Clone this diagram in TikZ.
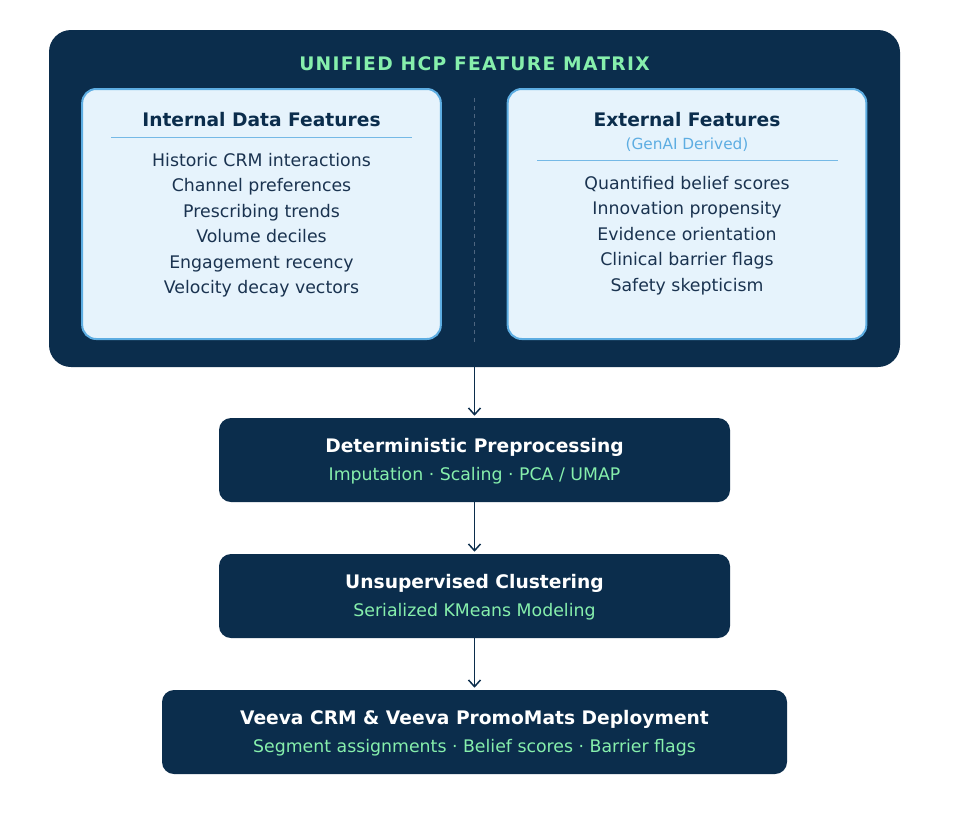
\documentclass[tikz,border=0pt]{standalone}
\usepackage{fontspec}
\setmainfont{DejaVu Sans}
\newfontfamily\spacedfont[LetterSpace=7]{DejaVu Sans}
\usetikzlibrary{arrows.meta}

\definecolor{navy}{HTML}{0B2D4C}
\definecolor{mint}{HTML}{86EFAC}
\definecolor{paleblue}{HTML}{E6F3FC}
\definecolor{skyline}{HTML}{5DADE2}
\definecolor{inkblue}{HTML}{1A3350}
\definecolor{dashgray}{HTML}{4F6680}

\begin{document}
\begin{tikzpicture}[x=0.75pt,y=-0.75pt,
  >={Straight Barb[length=5pt,width=9pt]},
  flow/.style={->,draw=navy,line width=1.1pt,shorten >=1.5pt},
  stage/.style={fill=navy,rounded corners=9pt,minimum height=63pt,inner sep=0pt},
  panel/.style={fill=paleblue,draw=skyline,line width=1.5pt,rounded corners=10.5pt,
    minimum width=269pt,minimum height=187.5pt,inner sep=0pt},
  stagetitle/.style={anchor=base,text=white,font=\fontsize{14pt}{17pt}\selectfont\bfseries},
  stagesub/.style={anchor=base,text=mint,font=\fontsize{13pt}{16pt}\selectfont},
  paneltitle/.style={anchor=base,text=navy,font=\fontsize{14pt}{17pt}\selectfont\bfseries},
  item/.style={anchor=base,text=inkblue,font=\fontsize{13pt}{16pt}\selectfont}]

  \useasboundingbox[fill=white] (0,0) rectangle (953,815);

  % feature matrix
  \node[fill=navy,rounded corners=16.5pt,minimum width=638.25pt,minimum height=252.75pt,
    inner sep=0pt] (matrix) at (474.5,198.5) {};
  \node[anchor=base,text=mint,font=\spacedfont\fontsize{14pt}{17pt}\selectfont\bfseries]
    (mtitle) at (474.5,70) {UNIFIED HCP FEATURE MATRIX};
  \draw[dashgray,dashed,line width=0.6pt] (474.5,98) -- (474.5,342);

  \node[panel] (internal) at (261.5,214) {};
  \node[panel] (external) at (687,214) {};

  \node[paneltitle] (int-t) at (261.5,126.5) {Internal Data Features};
  \draw[skyline!85,line width=0.7pt] (111,137) -- (412,137);
  \foreach \txt [count=\i] in {Historic CRM interactions,Channel preferences,
      Prescribing trends,Volume deciles,Engagement recency,Velocity decay vectors}
    \node[item] (int\i) at (261.5,{141+25.4*\i}) {\txt};

  \node[paneltitle] (ext-t) at (687,126.5) {External Features};
  \node[anchor=base,text=skyline,font=\fontsize{11.5pt}{14pt}\selectfont]
    (ext-s) at (687,149) {(GenAI Derived)};
  \draw[skyline!85,line width=0.7pt] (537,160) -- (838,160);
  \foreach \txt [count=\i] in {Quantified belief scores,Innovation propensity,
      Evidence orientation,Clinical barrier flags,Safety skepticism}
    \node[item] (ext\i) at (687,{163.5+25.5*\i}) {\txt};

  % pipeline
  \node[stage,minimum width=383.25pt] (pre) at (474.5,460) {};
  \node[stagetitle] (pre-t) at (474.5,452.5) {Deterministic Preprocessing};
  \node[stagesub] (pre-s) at (474.5,480.5) {Imputation · Scaling · PCA / UMAP};

  \node[stage,minimum width=383.25pt] (clust) at (474.5,596) {};
  \node[stagetitle] (clust-t) at (474.5,588.5) {Unsupervised Clustering};
  \node[stagesub] (clust-s) at (474.5,616.5) {Serialized KMeans Modeling};

  \node[stage,minimum width=468.75pt] (deploy) at (474.5,732) {};
  \node[stagetitle] (deploy-t) at (474.5,724.5) {Veeva CRM \& Veeva PromoMats Deployment};
  \node[stagesub] (deploy-s) at (474.5,752.5) {Segment assignments · Belief scores · Barrier flags};

  \draw[flow] (matrix.south) -- (pre.north);
  \draw[flow] (pre.south) -- (clust.north);
  \draw[flow] (clust.south) -- (deploy.north);
\end{tikzpicture}
\end{document}
